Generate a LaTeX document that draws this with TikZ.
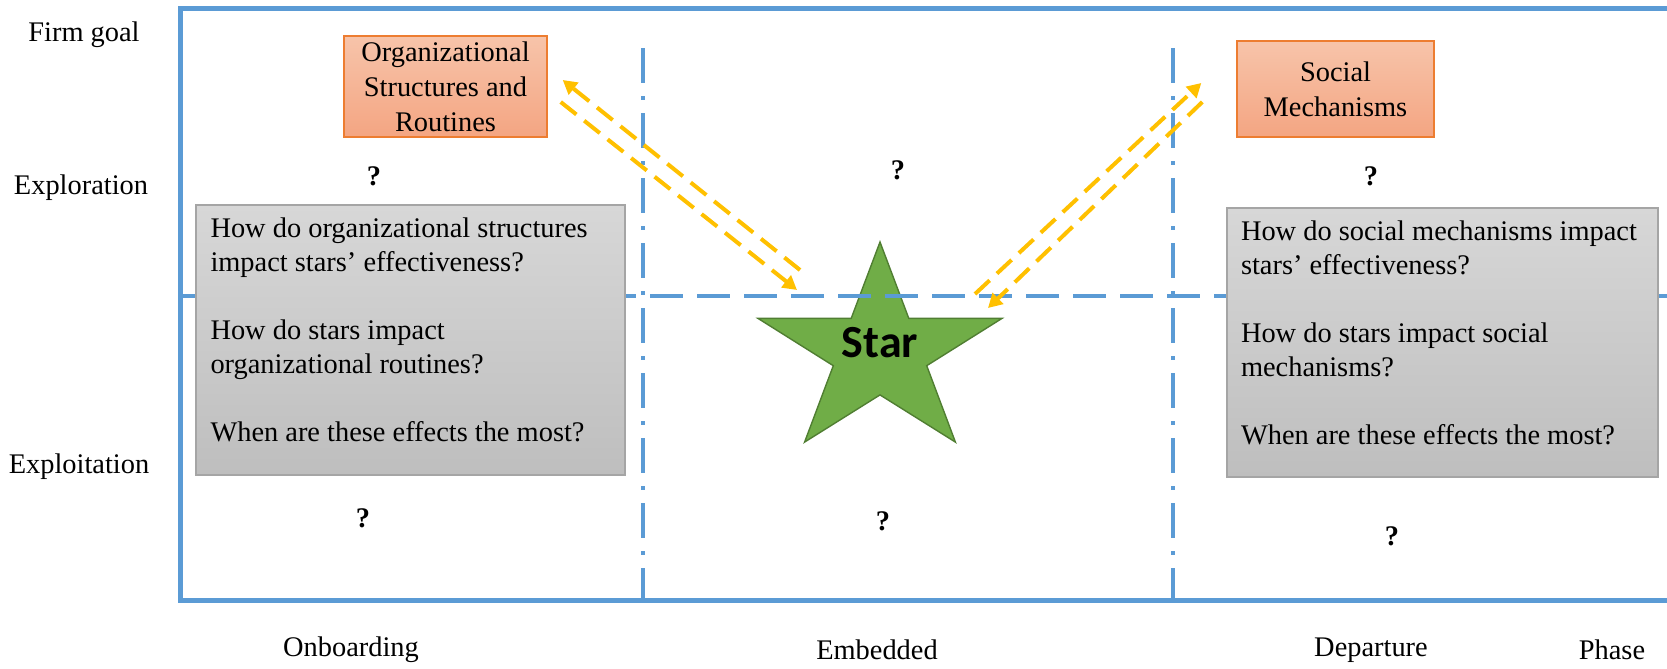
\documentclass[tikz,border=0pt]{standalone}
\usepackage{fontspec}
\setmainfont{Liberation Serif}
\newfontfamily\labelfont{Liberation Serif}
\newfontfamily\starfont{Carlito}
\usetikzlibrary{arrows.meta,calc,positioning}

\definecolor{frameblue}{HTML}{5B9BD5}
\definecolor{arrowgold}{HTML}{FFC000}
\definecolor{orangeedge}{HTML}{ED7D31}
\definecolor{orangetop}{HTML}{F7C4AA}
\definecolor{orangebot}{HTML}{F4A582}
\definecolor{greytop}{HTML}{D7D7D7}
\definecolor{greybot}{HTML}{BEBEBE}
\definecolor{greyedge}{HTML}{A5A5A5}
\definecolor{stargreen}{HTML}{70AD47}
\definecolor{staredge}{HTML}{507E32}

\begin{document}
\begin{tikzpicture}[x=0.5pt,y=-0.5pt,>={Triangle[length=7pt,width=7.5pt]},
  every node/.style={font=\labelfont\fontsize{14.2}{17}\selectfont},
  axis/.style={draw=frameblue,line width=2.5pt},
  phaseline/.style={draw=frameblue,line width=2pt,dash pattern=on 17.5pt off 6.5pt on 2pt off 6.5pt},
  goalline/.style={draw=frameblue,line width=2pt,dash pattern=on 16.5pt off 7pt},
  factor/.style={draw=orangeedge,line width=0.7pt,inner sep=0pt,font=\labelfont\fontsize{14.2}{17.5}\selectfont},
  question/.style={draw=greyedge,line width=0.6pt,minimum width=214.5pt,minimum height=135pt,inner xsep=7pt},
  orangeshade/.style={top color=orangetop,bottom color=orangebot},
  greyshade/.style={top color=greytop,bottom color=greybot},
  flow/.style={draw=arrowgold,line width=2pt,dash pattern=on 10pt off 5pt},
  ask/.style={font=\labelfont\fontsize{14.2}{17}\selectfont\bfseries}]
  \useasboundingbox (0,0) rectangle (1667,669);

  \node (goal) at (84,35) {Firm goal};
  \node (explore) at (81,188) {Exploration};
  \node (exploit) at (79,467) {Exploitation};
  \node (onboard) at (351,650) {Onboarding};
  \node (embed) at (877,650) {Embedded};
  \node (depart) at (1371,650) {Departure};
  \node (phase) at (1612,650) {Phase};

  \draw[phaseline] (643,48) -- (643,600);
  \draw[phaseline] (1173,48) -- (1173,600);

  \fill[stargreen,draw=staredge,line width=0.7pt] (880,242) -- (908.8,318.4) -- (1002,318.4) -- (926.7,365.7)
    -- (955.4,442.1) -- (880,394.9) -- (804.6,442.1) -- (833.3,365.7) -- (758,318.4) -- (851.2,318.4) -- cycle;
  \coordinate (startop) at (880,242);

  \draw[goalline] (180,296) -- (1667,296);
  \draw[axis] (1668,8.5) -- (180,8.5) -- (180,600) -- (1668,600);

  % box fills first, framed text nodes on top
  \shade[orangeshade] (344,36) rectangle (547,137);
  \shade[orangeshade] (1237,41) rectangle (1434,137);
  \shade[greyshade] (196,205) rectangle (625,475);
  \shade[greyshade] (1227,208) rectangle (1658,477);

  \node[factor,minimum width=101.5pt,minimum height=50.5pt] (org) at (445.5,86.5)
    {\parbox{100pt}{\centering Organizational\\Structures and\\Routines}};
  \node[factor,minimum width=98.5pt,minimum height=48pt] (soc) at (1335.5,89)
    {\parbox{97pt}{\centering Social\\Mechanisms}};

  \node[question] (qorg) at (410.5,340) {\parbox{200pt}{\raggedright\vspace{-5pt}How do organizational structures\\
    impact stars’ effectiveness?\\[17pt] How do stars impact\\ organizational routines?\\[17pt]
    When are these effects the most?\vspace{5pt}}};
  \node[question,minimum width=215.5pt,minimum height=134.5pt] (qsoc) at (1442.5,342.5) {\parbox{201.5pt}{\raggedright\vspace{-5pt}How do social mechanisms impact\\
    stars’ effectiveness?\\[17pt] How do stars impact social\\ mechanisms?\\[17pt]
    When are these effects the most?\vspace{5pt}}};

  \node[ask] (q1) at (374,176) {?};
  \node[ask] (q2) at (898,170) {?};
  \node[ask] (q3) at (1371,176) {?};
  \node[ask] (q4) at (363,518) {?};
  \node[ask] (q5) at (883,521) {?};
  \node[ask] (q6) at (1392,536) {?};

  \coordinate (orgtip) at ($(org.east)+(15,-6.5)$);
  \coordinate (orgfoot) at ($(org.east)+(13,15.5)$);
  \coordinate (soctip) at ($(soc.west)+(-35,-6)$);
  \coordinate (socfoot) at ($(soc.west)+(-34,13)$);
  \coordinate (starnw) at ($(startop)+(-80,28)$);
  \coordinate (starw) at ($(startop)+(-83,48)$);
  \coordinate (starne) at ($(startop)+(95,52)$);
  \coordinate (stare) at ($(startop)+(108,66)$);
  \draw[flow,->] (starnw) -- (orgtip);
  \draw[flow,->] (orgfoot) -- (starw);
  \draw[flow,->] (starne) -- (soctip);
  \draw[flow,->] (socfoot) -- (stare);

  \node[font=\starfont\fontsize{23}{26}\selectfont\bfseries] (star) at (880,343) {Star};
\end{tikzpicture}
\end{document}
